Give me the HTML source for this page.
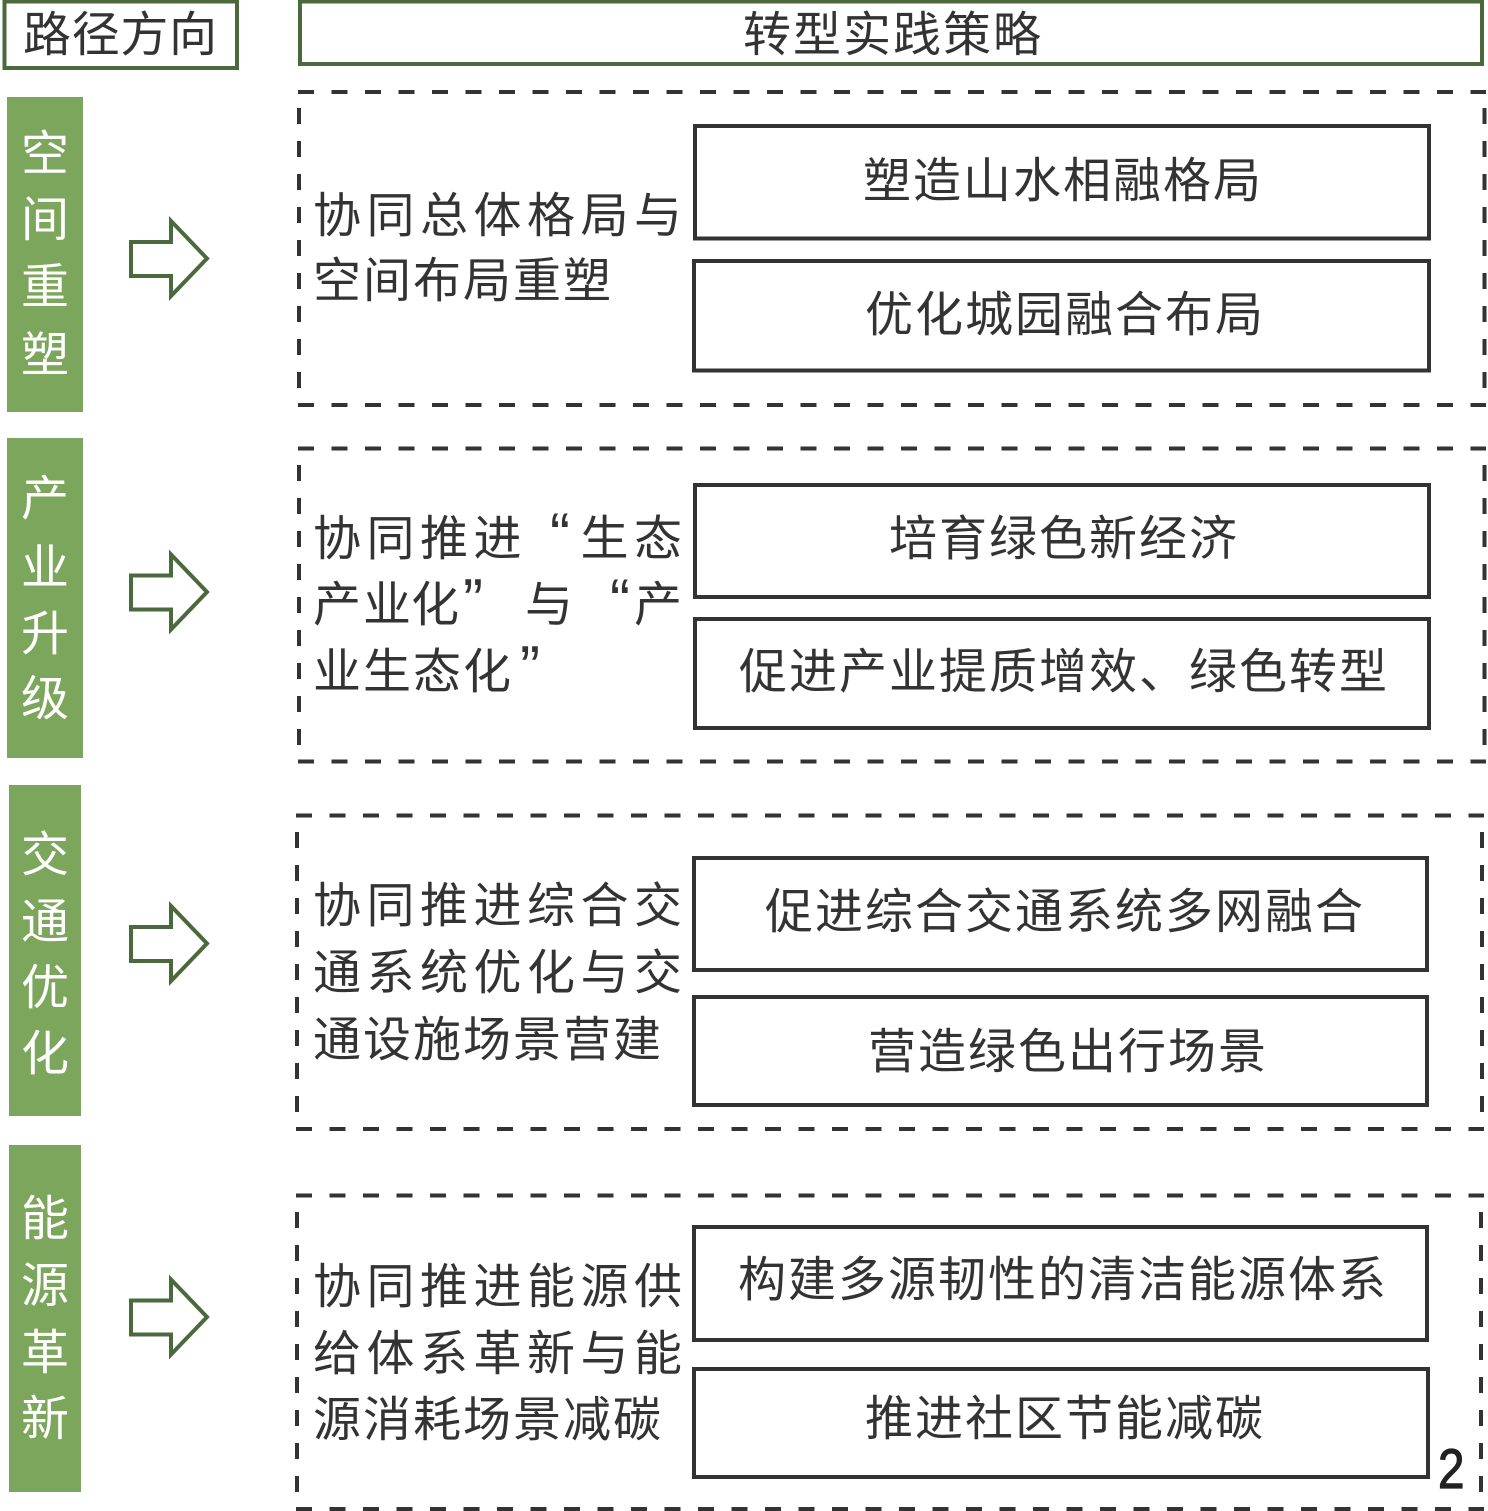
<!DOCTYPE html>
<html>
<head>
<meta charset="utf-8">
<style>
html,body{margin:0;padding:0;background:#fff;}
svg{display:block;}
text{font-family:"Liberation Sans","Noto Sans CJK SC",sans-serif;font-size:48px;fill:#333;}
.w{fill:#fff;}
.d{stroke:#333;stroke-width:4;stroke-dasharray:16 17;fill:none;}
.h{stroke:#333;stroke-width:4;stroke-dasharray:16 17.5;fill:none;}
.s{stroke:#333;stroke-width:4;fill:none;}
.g{stroke:#4a6a3e;stroke-width:4;fill:none;}
.q{font-size:60px;}
</style>
</head>
<body>
<svg width="1488" height="1511" viewBox="0 0 1488 1511" xmlns="http://www.w3.org/2000/svg">
<rect width="1488" height="1511" fill="#fff"/>

<!-- header boxes -->
<rect class="g" x="4.5" y="1.5" width="232.5" height="66.5"/>
<text x="23 71.7 120.4 169" y="51">路径方向</text>
<rect class="g" x="300" y="1.5" width="1182" height="62.5"/>
<text x="743 793 843 893 943 993" y="51">转型实践策略</text>

<!-- sidebars -->
<rect x="7" y="97" width="76" height="315" fill="#7ba65b"/>
<rect x="7" y="438" width="76" height="320" fill="#7ba65b"/>
<rect x="9" y="785" width="72" height="331" fill="#7ba65b"/>
<rect x="9" y="1145" width="72" height="347" fill="#7ba65b"/>

<g text-anchor="middle">
<text class="w" x="45" y="170">空</text>
<text class="w" x="45" y="236">间</text>
<text class="w" x="45" y="303">重</text>
<text class="w" x="45" y="371">塑</text>

<text class="w" x="45" y="515">产</text>
<text class="w" x="45" y="584">业</text>
<text class="w" x="45" y="650">升</text>
<text class="w" x="45" y="715">级</text>

<text class="w" x="45" y="871">交</text>
<text class="w" x="45" y="938">通</text>
<text class="w" x="45" y="1004">优</text>
<text class="w" x="45" y="1070">化</text>

<text class="w" x="45" y="1235">能</text>
<text class="w" x="45" y="1302">源</text>
<text class="w" x="45" y="1369">革</text>
<text class="w" x="45" y="1435">新</text>
</g>

<!-- arrows -->
<polygon class="g" points="131,242 171,242 171,221 207,258.5 171,296 171,276 131,276"/>
<polygon class="g" points="131,575.5 171,575.5 171,554.5 207,592 171,629.5 171,609.5 131,609.5"/>
<polygon class="g" points="131,927 171,927 171,906 207,943.5 171,981 171,961 131,961"/>
<polygon class="g" points="131,1300.5 171,1300.5 171,1279.5 207,1317 171,1354.5 171,1334.5 131,1334.5"/>

<!-- dashed boxes -->
<line class="h" x1="298" y1="92" x2="1486" y2="92"/>
<line class="h" x1="298" y1="405" x2="1486" y2="405"/>
<line class="d" x1="299" y1="108" x2="299" y2="405"/>
<line class="d" x1="1484.5" y1="108" x2="1484.5" y2="405"/>

<line class="h" x1="298" y1="448.5" x2="1486" y2="448.5"/>
<line class="h" x1="298" y1="761.5" x2="1486" y2="761.5"/>
<line class="d" x1="299" y1="465" x2="299" y2="761"/>
<line class="d" x1="1484.5" y1="465" x2="1484.5" y2="761"/>

<line class="h" x1="296" y1="815.5" x2="1484" y2="815.5"/>
<line class="h" x1="296" y1="1129" x2="1484" y2="1129"/>
<line class="d" x1="297" y1="832" x2="297" y2="1129"/>
<line class="d" x1="1482" y1="832" x2="1482" y2="1129"/>

<line class="h" x1="296" y1="1195.5" x2="1484" y2="1195.5"/>
<line class="h" x1="296" y1="1509" x2="1484" y2="1509"/>
<line class="d" x1="297" y1="1212" x2="297" y2="1509"/>
<line class="d" x1="1481" y1="1212" x2="1481" y2="1509"/>

<!-- left texts -->
<text x="313 366.5 420 473.5 527 580.5 634" y="232">协同总体格局与</text>
<text x="313 363 413 463 513 563" y="297">空间布局重塑</text>

<text y="555"><tspan x="313 366.5 420 473.5">协同推进</tspan><tspan class="q" x="550">“</tspan><tspan x="580.5 634">生态</tspan></text>
<text y="621"><tspan x="313 363 411">产业化</tspan><tspan class="q" x="463">”</tspan><tspan x="525">与</tspan><tspan class="q" x="610">“</tspan><tspan x="634">产</tspan></text>
<text y="688"><tspan x="313 363 413 463">业生态化</tspan><tspan class="q" x="520">”</tspan></text>

<text x="313 366.5 420 473.5 527 580.5 634" y="922">协同推进综合交</text>
<text x="313 366.5 420 473.5 527 580.5 634" y="989">通系统优化与交</text>
<text x="313 363 413 463 513 563 613" y="1056">通设施场景营建</text>

<text x="313 366.5 420 473.5 527 580.5 634" y="1303">协同推进能源供</text>
<text x="313 366.5 420 473.5 527 580.5 634" y="1370">给体系革新与能</text>
<text x="313 363 413 463 513 563 613" y="1436">源消耗场景减碳</text>

<!-- solid inner boxes -->
<rect class="s" x="695" y="126" width="734" height="112.5"/>
<rect class="s" x="694" y="261" width="735" height="109.5"/>
<rect class="s" x="695" y="485" width="734" height="112"/>
<rect class="s" x="695" y="619" width="734" height="109"/>
<rect class="s" x="694" y="858" width="733" height="112"/>
<rect class="s" x="694" y="997" width="733" height="108"/>
<rect class="s" x="694" y="1227" width="733" height="113"/>
<rect class="s" x="694" y="1369" width="734" height="108"/>

<!-- inner texts -->
<text x="863 913 963 1013 1063 1113 1163 1213" y="197">塑造山水相融格局</text>
<text x="865 915 965 1015 1065 1115 1165 1215" y="331">优化城园融合布局</text>
<text x="889 939 989 1039 1089 1139 1189" y="555">培育绿色新经济</text>
<text x="739 789 839 889 939 989 1039 1089 1139 1189 1239 1289 1339" y="688">促进产业提质增效、绿色转型</text>
<text x="765 815 865 915 965 1015 1065 1115 1165 1215 1265 1315" y="928">促进综合交通系统多网融合</text>
<text x="868 918 968 1018 1068 1118 1168 1218" y="1068">营造绿色出行场景</text>
<text x="738 788 838 888 938 988 1038 1088 1138 1188 1238 1288 1338" y="1296">构建多源韧性的清洁能源体系</text>
<text x="865 915 965 1015 1065 1115 1165 1215" y="1435">推进社区节能减碳</text>

<!-- page number -->
<text x="0" y="0" transform="translate(1438,1488) scale(0.85,1)" style="font-size:56px;fill:#222;stroke:#222;stroke-width:1.2;">2</text>
</svg>
</body>
</html>
